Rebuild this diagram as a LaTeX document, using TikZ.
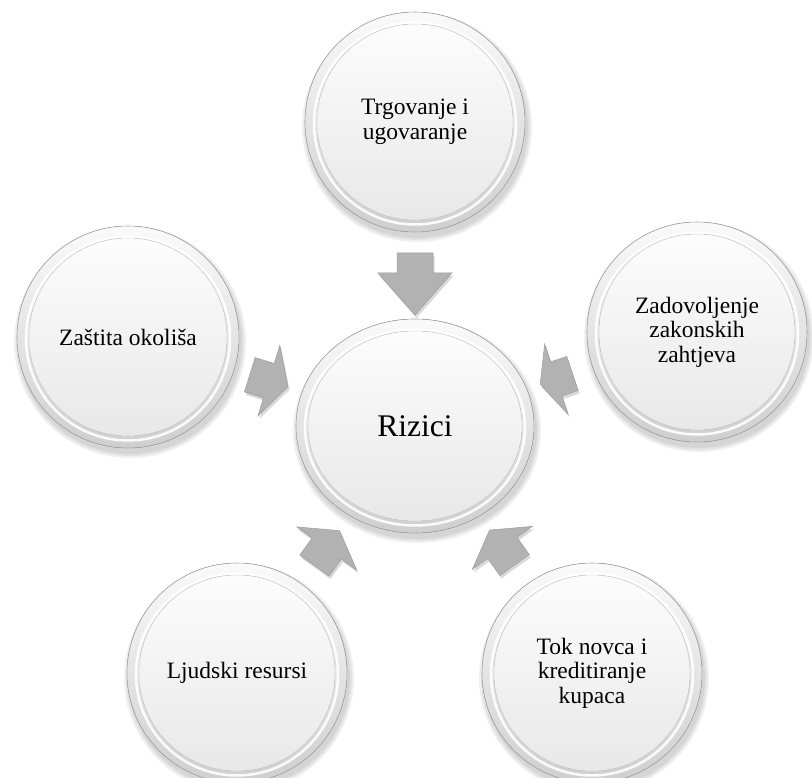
\documentclass[tikz,border=0pt]{standalone}
\usepackage{fontspec}
\setmainfont{Liberation Serif}
\usepackage{tikz}
\usetikzlibrary{calc,shapes.geometric,backgrounds}

\tikzset{
    bubble/.style={circle, minimum size=220pt, align=center, font=\fontsize{23.5}{24.5}\selectfont},
    bubblerim/.style={top color=gray!4, bottom color=gray!38},
    bubbleface/.style={top color=gray!2, bottom color=gray!18},
    blockfill/.style={fill=gray!60, draw=gray!78, line width=.5pt},
    pics/blockarr/.style 2 args={code={
        \path[pic actions] ({-(#1+#2)},-18) -- (-#2,-18) -- (-#2,-37) -- (0,0) -- (-#2,37) -- (-#2,18) -- ({-(#1+#2)},18) -- cycle;
    }}
}

\begin{document}
\begin{tikzpicture}[x=1pt, y=-1pt]
        \useasboundingbox (0,0) rectangle (812,778);
        % the six bubbles
        \node[bubble] (trgovanje) at (415,122) {Trgovanje i\\ugovaranje};
        \node[bubble] (okolis) at (128,337) {Zaštita okoliša};
        \node[bubble] (zakon) at (697,332) {Zadovoljenje\\zakonskih\\zahtjeva};
        \node[bubble] (ljudi) at (237,673) {Ljudski resursi};
        \node[bubble] (novac) at (592,673) {Tok novca i\\kreditiranje\\kupaca};
        \node[bubble, ellipse, minimum width=238pt, minimum height=214pt, font=\fontsize{31.5}{36}\selectfont] (rizici) at (415,426) {Rizici};
        \begin{scope}[on background layer]
            \foreach \n/\rx/\ry in {trgovanje/110/110, okolis/111/111, zakon/110/110, ljudi/110/110, novac/110/110, rizici/119/107} {
                % shadow
                \foreach \s in {5,3,1}
                    \fill[black, opacity=.06] ([shift={(2,5)}]\n) ellipse ({\rx+\s} and {\ry+\s});
                % rim and face
                \fill[bubblerim] (\n) ellipse ({\rx} and {\ry});
                \draw[white, line width=2.5pt, opacity=.9] ([shift={(0,1.5)}]\n) ellipse ({\rx-9} and {\ry-9});
                \fill[bubbleface] (\n) ellipse ({\rx-12} and {\ry-12});
                \draw[gray!28, line width=.5pt] (\n) ellipse ({\rx-12} and {\ry-12});
                \draw[gray!70, line width=.6pt] (\n) ellipse ({\rx} and {\ry});
            }
        \end{scope}
        % arrows into the middle
        \foreach \src/\dist/\ls/\lh in {trgovanje/111pt/20/42, okolis/133pt/20/20, zakon/132pt/17/17, ljudi/129pt/21/22, novac/128pt/21/22}
            \path let \p1=($(rizici.center)!\dist!(\src.center)$), \p2=($(rizici.center)-(\src.center)$), \n1={atan2(\y2,\x2)} in
                ($(\p1)+(1.5,3)$) pic[rotate=\n1, fill=black, opacity=.15] {blockarr={\ls}{\lh}}
                (\p1) pic[rotate=\n1, blockfill] {blockarr={\ls}{\lh}};
\end{tikzpicture}
\end{document}
